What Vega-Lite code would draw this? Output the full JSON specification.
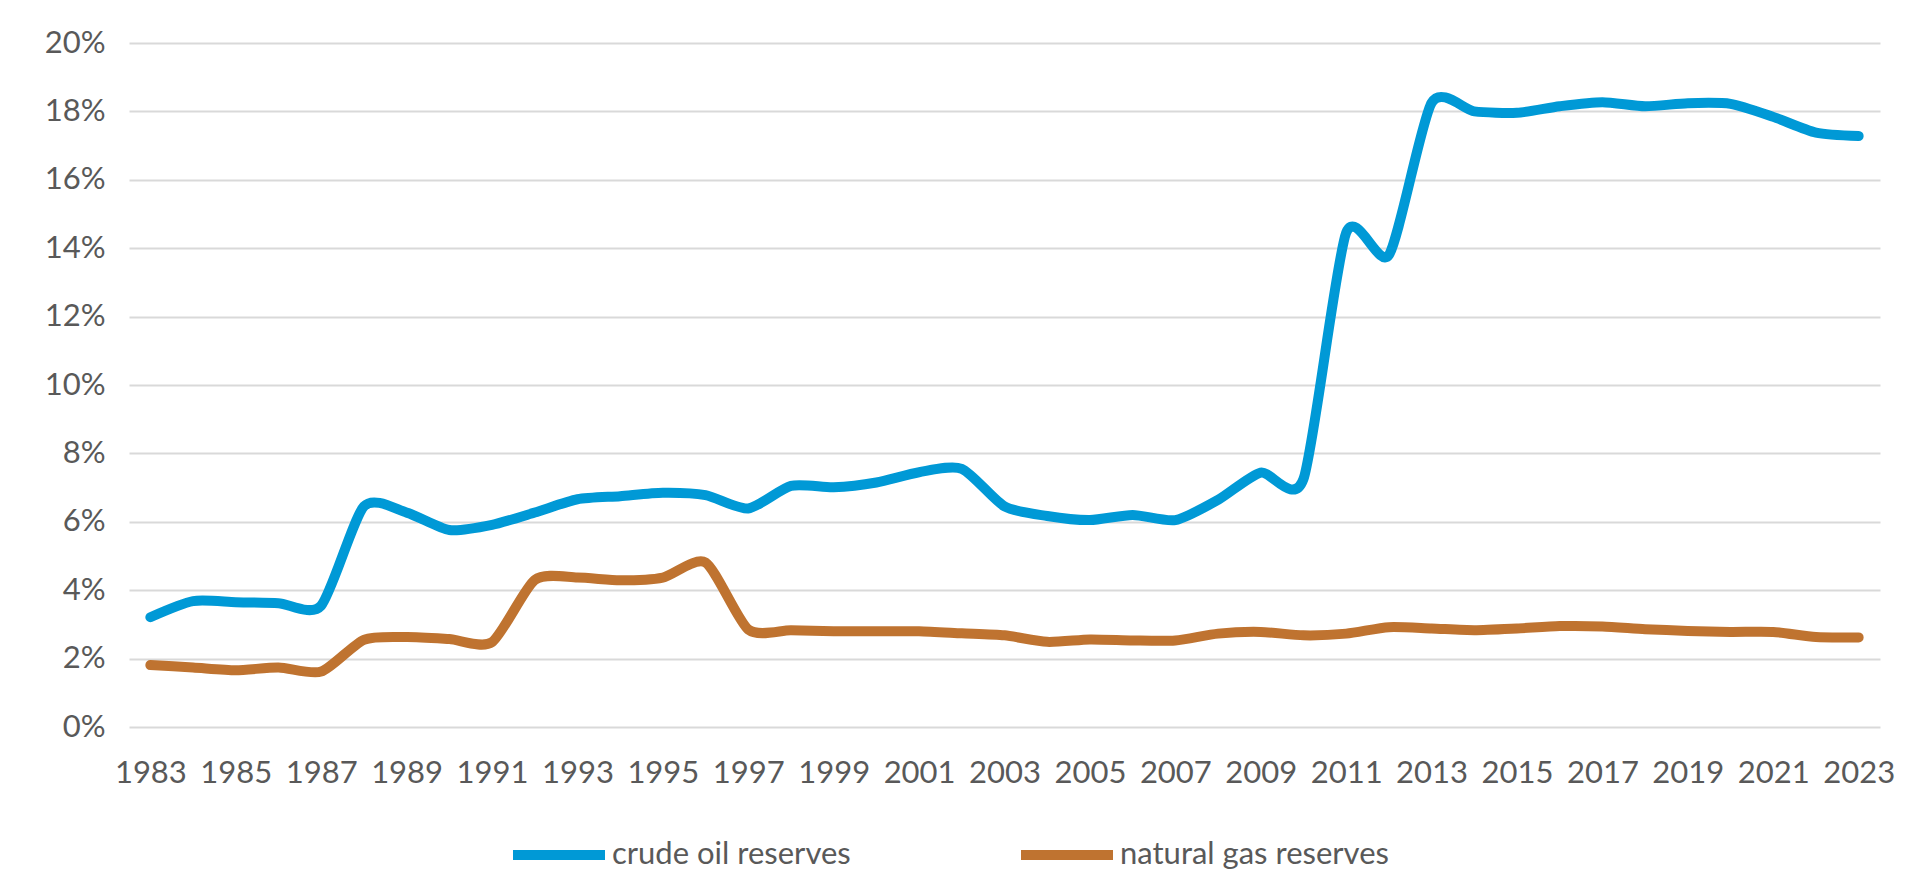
{
  "$schema": "https://vega.github.io/schema/vega-lite/v6.json",
  "width": 1751,
  "height": 684,
  "autosize": {"type": "none"},
  "padding": {"left": 129, "top": 43, "right": 40, "bottom": 156},
  "background": "white",
  "config": {
    "view": {"stroke": null},
    "font": "Lato",
    "axis": {"labelFont": "Lato", "labelColor": "#595959", "labelFontSize": 31},
    "legend": {"labelFont": "Lato"}
  },
  "datasets": {
    "rows": [
      {"year": 1983, "series": "crude oil reserves", "value": 3.21},
      {"year": 1984, "series": "crude oil reserves", "value": 3.68},
      {"year": 1985, "series": "crude oil reserves", "value": 3.65},
      {"year": 1986, "series": "crude oil reserves", "value": 3.62},
      {"year": 1987, "series": "crude oil reserves", "value": 3.55},
      {"year": 1988, "series": "crude oil reserves", "value": 6.45},
      {"year": 1989, "series": "crude oil reserves", "value": 6.27},
      {"year": 1990, "series": "crude oil reserves", "value": 5.76},
      {"year": 1991, "series": "crude oil reserves", "value": 5.91},
      {"year": 1992, "series": "crude oil reserves", "value": 6.27},
      {"year": 1993, "series": "crude oil reserves", "value": 6.66},
      {"year": 1994, "series": "crude oil reserves", "value": 6.75},
      {"year": 1995, "series": "crude oil reserves", "value": 6.85},
      {"year": 1996, "series": "crude oil reserves", "value": 6.78},
      {"year": 1997, "series": "crude oil reserves", "value": 6.39},
      {"year": 1998, "series": "crude oil reserves", "value": 7.05},
      {"year": 1999, "series": "crude oil reserves", "value": 7.01},
      {"year": 2000, "series": "crude oil reserves", "value": 7.15},
      {"year": 2001, "series": "crude oil reserves", "value": 7.45},
      {"year": 2002, "series": "crude oil reserves", "value": 7.55},
      {"year": 2003, "series": "crude oil reserves", "value": 6.45},
      {"year": 2004, "series": "crude oil reserves", "value": 6.17},
      {"year": 2005, "series": "crude oil reserves", "value": 6.05},
      {"year": 2006, "series": "crude oil reserves", "value": 6.2},
      {"year": 2007, "series": "crude oil reserves", "value": 6.05},
      {"year": 2008, "series": "crude oil reserves", "value": 6.64},
      {"year": 2009, "series": "crude oil reserves", "value": 7.44},
      {"year": 2010, "series": "crude oil reserves", "value": 7.25},
      {"year": 2011, "series": "crude oil reserves", "value": 14.45},
      {"year": 2012, "series": "crude oil reserves", "value": 13.8},
      {"year": 2013, "series": "crude oil reserves", "value": 18.25},
      {"year": 2014, "series": "crude oil reserves", "value": 18.0},
      {"year": 2015, "series": "crude oil reserves", "value": 17.96},
      {"year": 2016, "series": "crude oil reserves", "value": 18.15},
      {"year": 2017, "series": "crude oil reserves", "value": 18.27},
      {"year": 2018, "series": "crude oil reserves", "value": 18.15},
      {"year": 2019, "series": "crude oil reserves", "value": 18.24},
      {"year": 2020, "series": "crude oil reserves", "value": 18.22},
      {"year": 2021, "series": "crude oil reserves", "value": 17.84},
      {"year": 2022, "series": "crude oil reserves", "value": 17.38},
      {"year": 2023, "series": "crude oil reserves", "value": 17.28},
      {"year": 1983, "series": "natural gas reserves", "value": 1.81},
      {"year": 1984, "series": "natural gas reserves", "value": 1.74},
      {"year": 1985, "series": "natural gas reserves", "value": 1.66},
      {"year": 1986, "series": "natural gas reserves", "value": 1.74},
      {"year": 1987, "series": "natural gas reserves", "value": 1.62},
      {"year": 1988, "series": "natural gas reserves", "value": 2.55},
      {"year": 1989, "series": "natural gas reserves", "value": 2.63},
      {"year": 1990, "series": "natural gas reserves", "value": 2.57},
      {"year": 1991, "series": "natural gas reserves", "value": 2.48},
      {"year": 1992, "series": "natural gas reserves", "value": 4.3},
      {"year": 1993, "series": "natural gas reserves", "value": 4.37},
      {"year": 1994, "series": "natural gas reserves", "value": 4.29},
      {"year": 1995, "series": "natural gas reserves", "value": 4.37},
      {"year": 1996, "series": "natural gas reserves", "value": 4.81},
      {"year": 1997, "series": "natural gas reserves", "value": 2.85},
      {"year": 1998, "series": "natural gas reserves", "value": 2.83},
      {"year": 1999, "series": "natural gas reserves", "value": 2.8},
      {"year": 2000, "series": "natural gas reserves", "value": 2.8},
      {"year": 2001, "series": "natural gas reserves", "value": 2.8},
      {"year": 2002, "series": "natural gas reserves", "value": 2.74},
      {"year": 2003, "series": "natural gas reserves", "value": 2.68},
      {"year": 2004, "series": "natural gas reserves", "value": 2.49},
      {"year": 2005, "series": "natural gas reserves", "value": 2.56},
      {"year": 2006, "series": "natural gas reserves", "value": 2.53},
      {"year": 2007, "series": "natural gas reserves", "value": 2.53},
      {"year": 2008, "series": "natural gas reserves", "value": 2.73},
      {"year": 2009, "series": "natural gas reserves", "value": 2.78},
      {"year": 2010, "series": "natural gas reserves", "value": 2.68},
      {"year": 2011, "series": "natural gas reserves", "value": 2.73},
      {"year": 2012, "series": "natural gas reserves", "value": 2.92},
      {"year": 2013, "series": "natural gas reserves", "value": 2.88},
      {"year": 2014, "series": "natural gas reserves", "value": 2.83},
      {"year": 2015, "series": "natural gas reserves", "value": 2.88},
      {"year": 2016, "series": "natural gas reserves", "value": 2.95},
      {"year": 2017, "series": "natural gas reserves", "value": 2.94},
      {"year": 2018, "series": "natural gas reserves", "value": 2.86},
      {"year": 2019, "series": "natural gas reserves", "value": 2.81},
      {"year": 2020, "series": "natural gas reserves", "value": 2.78},
      {"year": 2021, "series": "natural gas reserves", "value": 2.78},
      {"year": 2022, "series": "natural gas reserves", "value": 2.63},
      {"year": 2023, "series": "natural gas reserves", "value": 2.62}
    ]
  },
  "data": {"name": "rows"},
  "mark": {"type": "line", "interpolate": "cardinal", "tension": 0.3, "strokeWidth": 10, "strokeCap": "round", "strokeJoin": "round"},
  "encoding": {
    "x": {
      "field": "year",
      "type": "ordinal",
      "scale": {"type": "point", "padding": 0.5},
      "axis": {
        "title": null,
        "values": [1983, 1985, 1987, 1989, 1991, 1993, 1995, 1997, 1999, 2001, 2003, 2005, 2007, 2009, 2011, 2013, 2015, 2017, 2019, 2021, 2023],
        "labelAngle": 0,
        "labelPadding": 31,
        "ticks": false,
        "domain": false,
        "grid": false
      }
    },
    "y": {
      "field": "value",
      "type": "quantitative",
      "scale": {"domain": [0, 20], "nice": false},
      "axis": {
        "title": null,
        "values": [0, 2, 4, 6, 8, 10, 12, 14, 16, 18, 20],
        "labelExpr": "datum.value + '%'",
        "labelPadding": 24,
        "ticks": false,
        "domain": false,
        "grid": true,
        "gridColor": "#d9d9d9",
        "gridWidth": 2
      }
    },
    "color": {
      "field": "series",
      "type": "nominal",
      "scale": {"domain": ["crude oil reserves", "natural gas reserves"], "range": ["#0099D6", "#BF7330"]},
      "legend": {
        "title": null,
        "orient": "none",
        "legendX": 379,
        "legendY": 761,
        "direction": "horizontal",
        "symbolType": "stroke",
        "symbolSize": 8464,
        "symbolStrokeWidth": 10,
        "labelFontSize": 31,
        "labelColor": "#595959",
        "labelOffset": 2,
        "labelLimit": 500,
        "columnPadding": 150
      }
    }
  }
}
